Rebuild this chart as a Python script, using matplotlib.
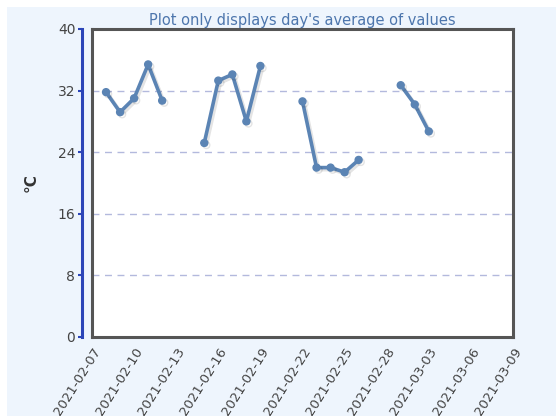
import numpy as np
import pandas as pd
import matplotlib.pyplot as plt
import matplotlib.dates as mdates
import matplotlib.patheffects as pe
from matplotlib.patches import Rectangle

# daily averages (NaN = no data that day)
days = pd.date_range("2021-02-08", "2021-03-03", freq="D")
temps = [31.8, 29.2, 31.0, 35.4, 30.7, np.nan, np.nan,
         25.2, 33.3, 34.1, 28.0, 35.2, np.nan, np.nan,
         30.6, 22.0, 22.0, 21.4, 23.0, np.nan, np.nan,
         32.7, 30.2, 26.7]
yticks = [0, 8, 16, 24, 32, 40]
xticks = pd.date_range("2021-02-07", "2021-03-09", freq="3D")

fig = plt.figure(figsize=(5.56, 4.16), dpi=100, facecolor="white")
fig.patches.append(Rectangle((7 / 556, 0), 1, 1 - 7 / 416, transform=fig.transFigure,
                             facecolor="#eef5fd", edgecolor="none", zorder=-10))
ax = fig.add_axes([92 / 556, 79 / 416, 421 / 556, 308 / 416])
ax.set_facecolor("white")

line_color = "#5b84b4"
ax.plot(days, temps, color=line_color, linewidth=2.6, marker="o", markersize=5,
        solid_capstyle="round", zorder=3,
        path_effects=[pe.SimpleLineShadow(offset=(1.5, -1.5), alpha=0.12, shadow_color="#222222"),
                      pe.Normal()])

ax.set_xlim(xticks[0], xticks[-1])
ax.set_ylim(0, 40)
ax.set_yticks(yticks)
ax.set_xticks(xticks)
ax.xaxis.set_major_formatter(mdates.DateFormatter("%Y-%m-%d"))
plt.setp(ax.get_xticklabels(), rotation=58, ha="right", rotation_mode="anchor")

for y in [8, 16, 24, 32]:
    ax.axhline(y, color="#b3b9dd", linestyle=(0, (5, 4)), linewidth=1, zorder=1)

# frame
for side in ["top", "right", "bottom"]:
    ax.spines[side].set_color("#555555")
    ax.spines[side].set_linewidth(2.2)
ax.spines["left"].set_position(("outward", 7))
ax.spines["left"].set_color("#2b45b8")
ax.spines["left"].set_linewidth(2.2)
ax.axvline(xticks[0], color="#555555", linewidth=2.2, clip_on=False, zorder=4)

ax.tick_params(axis="y", colors="#2b45b8", labelcolor="#444444", labelsize=10,
               length=3, width=1.5, pad=2)
ax.tick_params(axis="x", length=0, labelcolor="#444444", labelsize=9.5, pad=6)

ax.set_ylabel("°C", fontsize=11, fontweight="bold", color="#333333", labelpad=14)
ax.set_title("Plot only displays day's average of values", fontsize=10.5,
             color="#4d76ad", pad=3)

plt.savefig("out.png", dpi=100, facecolor=fig.get_facecolor())
